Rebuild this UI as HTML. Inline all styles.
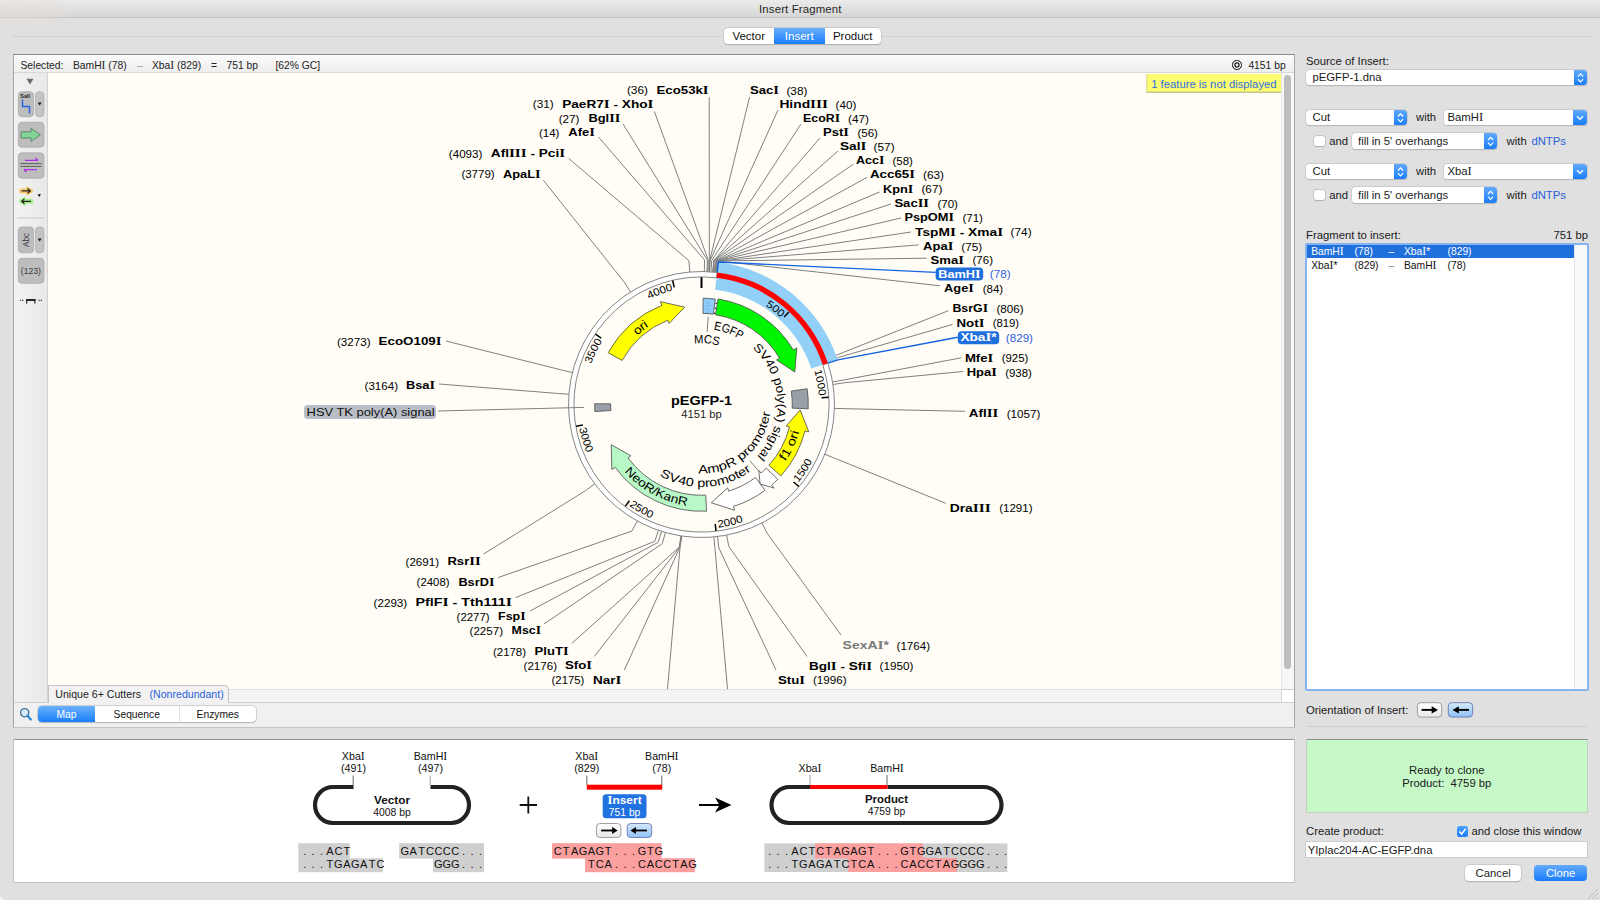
<!DOCTYPE html><html><head><meta charset="utf-8"><style>
*{box-sizing:border-box;margin:0;padding:0}
html,body{width:1600px;height:900px;overflow:hidden;background:#e0e0e0;font-family:"Liberation Sans",sans-serif;color:#1a1a1a}
.a{position:absolute}
.t{position:absolute;white-space:nowrap;line-height:1}
#title{left:0;top:0;width:1600px;height:18.3px;background:linear-gradient(#ebebeb,#d6d6d6);border-bottom:1px solid #c3c3c3}
.seg{position:absolute;border-radius:4px;background:#fff;box-shadow:0 0 0 0.5px #b8b8b8,0 0.5px 1px rgba(0,0,0,.25);overflow:hidden}
.seg .s{position:absolute;top:0;height:100%;text-align:center;font-size:11.5px;color:#111}
.seg .on{background:linear-gradient(#6bb0fb,#1a7ffb);color:#fff}
.btn{position:absolute;background:linear-gradient(#d2d2d2,#bdbdbd);border-radius:4px;box-shadow:inset 0 0 0 0.6px #9a9a9a}
.pop{position:absolute;background:#fff;border-radius:3.5px;box-shadow:0 0 0 0.5px #bdbdbd,0 0.6px 1px rgba(0,0,0,.22)}
.pop .bl{position:absolute;right:0;top:0;bottom:0;background:linear-gradient(#62a9fb,#1a7dfa);border-radius:0 3.5px 3.5px 0}
.ui{font-size:11.3px;color:#1a1a1a}
.I{font-family:"Liberation Serif",serif;font-size:1.13em;line-height:0.8}
</style></head><body><div id="title" class="a"></div><div class="a" style="left:0;top:890px;width:10px;height:10px;background:#f4f4f4"></div><div class="a" style="left:0;top:880px;width:20px;height:20px;background:#e0e0e0;border-radius:0 0 0 6px"></div><div class="a" style="left:0;top:0;width:90px;height:34px;background:radial-gradient(ellipse 70px 22px at 18px 12px, rgba(232,222,212,.55), rgba(230,230,230,0))"></div><div class="t" style="left:759px;top:4.4px;font-size:11.4px;color:#262626;letter-spacing:0.15px">Insert Fragment</div><div class="a" style="left:12px;top:36px;width:1580px;height:1px;background:#d3d3d3"></div><div class="seg" style="left:723.5px;top:27.5px;width:157.5px;height:16.5px"><div class="s" style="left:0;width:50.5px;padding-top:2.6px">Vector</div><div class="s on" style="left:50.5px;width:50.5px;padding-top:2.6px">Insert</div><div class="s" style="left:101px;width:56.5px;padding-top:2.6px">Product</div></div><div class="a" style="left:13px;top:54px;width:1282px;height:674px;background:#f0f0f0;border:1px solid #a6a6a6;border-top-color:#8a8a8a;border-bottom-color:#c4c4c4"></div><div class="a" style="left:14px;top:55px;width:1280px;height:18px;background:linear-gradient(#fbfbfb,#eeeeee);border-bottom:1px solid #d9d9d9"></div><div class="t ui" style="left:20.5px;top:60.8px;font-size:10.3px;color:#222">Selected:</div><div class="t ui" style="left:73px;top:60.8px;font-size:10.3px;color:#222">BamH<span class=I>I</span> (78)</div><div class="t ui" style="left:137px;top:60.8px;font-size:10.3px;color:#999">–</div><div class="t ui" style="left:152px;top:60.8px;font-size:10.3px;color:#222">Xba<span class=I>I</span> (829)</div><div class="t ui" style="left:211px;top:60.8px;font-size:10.3px;color:#222">=</div><div class="t ui" style="left:226.5px;top:60.8px;font-size:10.3px;color:#222">751 bp</div><div class="t ui" style="left:275.5px;top:60.8px;font-size:10.3px;color:#222">[62% GC]</div><div class="a" style="left:1232px;top:60.3px;width:9.5px;height:9.5px;border-radius:50%;border:1.6px solid #111;box-shadow:inset 0 0 0 1.3px #fff, inset 0 0 0 2.6px #111"></div><div class="t ui" style="left:1248.4px;top:60.8px;font-size:10.3px;color:#222">4151 bp</div><div class="a" style="left:14px;top:73px;width:34px;height:629px;background:linear-gradient(90deg,#f2f2f2,#e9e9e9);border-right:1px solid #d2d2d2"></div><div class="a" style="left:1281px;top:73px;width:13px;height:616px;background:#f7f7f7;border-left:1px solid #e6e6e6"></div><div class="a" style="left:1284.4px;top:75px;width:6.5px;height:594px;border-radius:3.5px;background:#bdbdbd"></div><div class="a" style="left:14px;top:702px;width:1280px;height:25px;background:#f0f0f0;border-top:1px solid #d0d0d0"></div><div class="seg" style="left:38px;top:706.2px;width:218px;height:16px"><div class="s on" style="left:0;width:57px;padding-top:2.8px;font-size:10.3px">Map</div><div class="s" style="left:57px;width:84.5px;padding-top:2.8px;font-size:10.3px;border-right:1px solid #e0e0e0">Sequence</div><div class="s" style="left:141.5px;width:76.5px;padding-top:2.8px;font-size:10.3px">Enzymes</div></div><svg class="a" style="left:18px;top:705px" width="16" height="17" viewBox="0 0 16 17"><circle cx="6.7" cy="7.7" r="4.1" fill="#d6eafb" stroke="#3a6f93" stroke-width="1.3"/><line x1="9.5" y1="10.8" x2="12.8" y2="14.5" stroke="#2b86d8" stroke-width="2.3" stroke-linecap="round"/></svg><svg width="1233" height="616" viewBox="48 73 1233 616" style="position:absolute;left:48px;top:73px" font-family="Liberation Sans, sans-serif"><defs><path id="tk500" d="M666.06 292.37 A117.6 117.6 0 0 1 780.89 317.74"/><path id="tk1000" d="M752.73 298.65 A117.6 117.6 0 0 1 818.79 395.94"/><path id="tk1500" d="M798.33 482.60 A124.4 124.4 0 0 0 817.55 359.69"/><path id="tk2000" d="M718.27 527.76 A124.4 124.4 0 0 0 816.64 451.61"/><path id="tk2500" d="M629.06 505.63 A124.4 124.4 0 0 0 752.86 517.80"/><path id="tk3000" d="M579.39 428.28 A124.4 124.4 0 0 0 661.04 522.14"/><path id="tk3500" d="M597.05 458.54 A117.6 117.6 0 0 1 602.47 341.07"/><path id="tk4000" d="M588.46 372.08 A117.6 117.6 0 0 1 673.06 290.39"/><path id="p1" d="M639.01 475.13 A94.3 94.3 0 1 1 784.37 359.50"/><path id="p2" d="M643.48 487.66 A101.4 101.4 0 1 0 727.57 306.51"/><path id="p3" d="M621.63 340.74 A102.2 102.2 0 1 0 798.36 437.10"/><path id="p4" d="M626.90 391.08 A75.8 75.8 0 1 1 767.01 442.63"/><path id="p5" d="M640.45 410.06 A61.3 61.3 0 1 1 760.77 420.16"/><path id="p6" d="M685.18 330.27 A76.0 76.0 0 1 1 691.45 479.83"/><path id="p7" d="M619.45 395.01 A82.6 82.6 0 1 0 781.85 385.36"/><path id="p8" d="M641.99 439.42 A69.0 69.0 0 1 0 745.48 351.33"/></defs><rect x="48" y="73" width="1233" height="616" fill="#fffdf6"/><polyline points="749.60,97.00 709.81,260.24 709.15,271.72" fill="none" stroke="#808080" stroke-width="1"/><polyline points="778.00,110.00 710.24,260.26 709.55,271.74" fill="none" stroke="#808080" stroke-width="1"/><polyline points="801.00,124.00 711.77,260.37 710.95,271.84" fill="none" stroke="#808080" stroke-width="1"/><polyline points="820.00,138.00 713.73,260.52 712.76,271.98" fill="none" stroke="#808080" stroke-width="1"/><polyline points="838.00,151.00 713.95,260.54 712.96,271.99" fill="none" stroke="#808080" stroke-width="1"/><polyline points="853.60,164.00 714.17,260.56 713.16,272.01" fill="none" stroke="#808080" stroke-width="1"/><polyline points="867.00,177.40 715.26,260.66 714.16,272.10" fill="none" stroke="#808080" stroke-width="1"/><polyline points="879.60,192.00 716.13,260.74 714.97,272.18" fill="none" stroke="#808080" stroke-width="1"/><polyline points="891.00,204.00 716.78,260.81 715.57,272.25" fill="none" stroke="#808080" stroke-width="1"/><polyline points="901.00,218.00 717.00,260.83 715.77,272.27" fill="none" stroke="#808080" stroke-width="1"/><polyline points="911.00,232.00 717.65,260.91 716.37,272.33" fill="none" stroke="#808080" stroke-width="1"/><polyline points="918.70,244.90 717.87,260.93 716.57,272.36" fill="none" stroke="#808080" stroke-width="1"/><polyline points="926.70,258.20 718.09,260.96 716.77,272.38" fill="none" stroke="#808080" stroke-width="1"/><polyline points="940.00,285.80 719.82,261.17 718.37,272.57" fill="none" stroke="#808080" stroke-width="1"/><polyline points="948.40,310.70 837.20,354.84 826.40,358.80" fill="none" stroke="#808080" stroke-width="1"/><polyline points="952.40,324.50 838.15,357.52 827.28,361.26" fill="none" stroke="#808080" stroke-width="1"/><polyline points="961.30,357.80 843.90,379.96 832.57,381.91" fill="none" stroke="#808080" stroke-width="1"/><polyline points="963.10,371.50 844.36,382.77 832.99,384.49" fill="none" stroke="#808080" stroke-width="1"/><polyline points="965.00,411.30 845.94,408.71 834.44,408.37" fill="none" stroke="#808080" stroke-width="1"/><polyline points="945.80,503.30 835.51,458.55 824.85,454.24" fill="none" stroke="#808080" stroke-width="1"/><polyline points="841.00,635.00 767.14,533.23 761.91,522.99" fill="none" stroke="#808080" stroke-width="1"/><polyline points="807.00,656.40 728.78,546.40 726.61,535.11" fill="none" stroke="#808080" stroke-width="1"/><polyline points="776.00,670.00 718.85,547.96 717.47,536.54" fill="none" stroke="#808080" stroke-width="1"/><polyline points="709.20,97.20 709.37,260.21 708.74,271.70" fill="none" stroke="#808080" stroke-width="1"/><polyline points="654.40,111.50 708.28,260.16 707.74,271.65" fill="none" stroke="#808080" stroke-width="1"/><polyline points="622.90,123.80 707.40,260.12 706.93,271.61" fill="none" stroke="#808080" stroke-width="1"/><polyline points="598.40,136.90 704.56,260.03 704.32,271.53" fill="none" stroke="#808080" stroke-width="1"/><polyline points="568.60,158.40 688.83,260.56 689.84,272.01" fill="none" stroke="#808080" stroke-width="1"/><polyline points="543.30,180.10 624.37,282.31 630.51,292.03" fill="none" stroke="#808080" stroke-width="1"/><polyline points="446.00,341.00 561.20,369.90 572.37,372.65" fill="none" stroke="#808080" stroke-width="1"/><polyline points="439.00,384.00 557.43,393.41 568.89,394.29" fill="none" stroke="#808080" stroke-width="1"/><polyline points="483.60,554.00 585.52,490.70 594.75,483.84" fill="none" stroke="#808080" stroke-width="1"/><polyline points="498.00,577.60 631.81,531.08 637.35,521.01" fill="none" stroke="#808080" stroke-width="1"/><polyline points="515.60,597.60 654.78,541.24 658.50,530.36" fill="none" stroke="#808080" stroke-width="1"/><polyline points="530.00,611.00 658.11,542.33 661.56,531.36" fill="none" stroke="#808080" stroke-width="1"/><polyline points="544.00,624.00 662.30,543.58 665.42,532.51" fill="none" stroke="#808080" stroke-width="1"/><polyline points="571.60,643.60 679.17,547.26 680.95,535.90" fill="none" stroke="#808080" stroke-width="1"/><polyline points="594.40,656.40 679.60,547.33 681.35,535.96" fill="none" stroke="#808080" stroke-width="1"/><polyline points="624.40,670.00 679.82,547.36 681.54,535.99" fill="none" stroke="#808080" stroke-width="1"/><polyline points="666.50,700.00 680.04,547.40 681.74,536.02" fill="none" stroke="#808080" stroke-width="1"/><polyline points="728.50,700.00 714.93,548.37 713.86,536.92" fill="none" stroke="#808080" stroke-width="1"/><path d="M718.37 262.30 A143.2 143.2 0 0 1 837.61 360.00 L811.28 368.61 A115.5 115.5 0 0 0 715.10 289.80 Z" fill="#92d0f7"/><path d="M827.92 363.17 A133 133 0 1 1 717.17 272.43 L716.53 277.79 A127.6 127.6 0 1 0 822.78 364.85 Z" fill="#ffffff" stroke="#777" stroke-width="0.9"/><path d="M717.17 272.43 A133 133 0 0 1 827.92 363.17 L822.78 364.85 A127.6 127.6 0 0 0 716.53 277.79 Z" fill="#ff0000"/><polyline points="935.60,272.40 718.40,262.00 717.17,272.43" fill="none" stroke="#1463e0" stroke-width="1.4"/><polyline points="957.80,337.30 837.90,359.91 827.92,363.17" fill="none" stroke="#1463e0" stroke-width="1.4"/><line x1="788.91" y1="311.95" x2="784.10" y2="317.04" stroke="#000" stroke-width="1.5"/><text font-size="10.5" text-anchor="end"><textPath href="#tk500" startOffset="100%" textLength="19.4" lengthAdjust="spacingAndGlyphs">500</textPath></text><line x1="828.59" y1="397.23" x2="821.60" y2="397.63" stroke="#000" stroke-width="1.5"/><text font-size="10.5" text-anchor="end"><textPath href="#tk1000" startOffset="100%" textLength="25.8" lengthAdjust="spacingAndGlyphs">1000</textPath></text><line x1="798.89" y1="486.48" x2="793.53" y2="481.97" stroke="#000" stroke-width="1.5"/><text font-size="10.5" text-anchor="start"><textPath href="#tk1500" startOffset="0" textLength="25.8" lengthAdjust="spacingAndGlyphs">1500</textPath></text><line x1="716.02" y1="530.97" x2="715.22" y2="524.02" stroke="#000" stroke-width="1.5"/><text font-size="10.5" text-anchor="start"><textPath href="#tk2000" startOffset="0" textLength="25.8" lengthAdjust="spacingAndGlyphs">2000</textPath></text><line x1="625.22" y1="506.41" x2="629.41" y2="500.81" stroke="#000" stroke-width="1.5"/><text font-size="10.5" text-anchor="start"><textPath href="#tk2500" startOffset="0" textLength="25.8" lengthAdjust="spacingAndGlyphs">2500</textPath></text><line x1="576.07" y1="426.22" x2="582.96" y2="425.02" stroke="#000" stroke-width="1.5"/><text font-size="10.5" text-anchor="start"><textPath href="#tk3000" startOffset="0" textLength="25.8" lengthAdjust="spacingAndGlyphs">3000</textPath></text><line x1="595.40" y1="334.16" x2="601.23" y2="338.03" stroke="#000" stroke-width="1.5"/><text font-size="10.5" text-anchor="end"><textPath href="#tk3500" startOffset="100%" textLength="25.8" lengthAdjust="spacingAndGlyphs">3500</textPath></text><line x1="672.66" y1="280.51" x2="674.24" y2="287.33" stroke="#000" stroke-width="1.5"/><text font-size="10.5" text-anchor="end"><textPath href="#tk4000" startOffset="100%" textLength="25.8" lengthAdjust="spacingAndGlyphs">4000</textPath></text><line x1="701.50" y1="277.20" x2="701.50" y2="288.00" stroke="#000" stroke-width="2"/><path d="M608.09 352.72 A106.8 106.8 0 0 1 661.84 305.34 L660.35 301.62 L684.68 307.14 L669.08 323.44 L667.78 320.19 A90.8 90.8 0 0 0 622.08 360.48 Z" fill="#ffff00" stroke="#4a4a4a" stroke-width="0.8"/><path d="M715.26 298.59 A106.8 106.8 0 0 1 718.21 299.01 L715.70 314.82 A90.8 90.8 0 0 0 713.19 314.46 Z" fill="#ffffff"/><line x1="714.64" y1="313.85" x2="716.75" y2="299.30" stroke="#111" stroke-width="1.3" stroke-dasharray="1.3 3.7"/><path d="M718.02 298.99 A106.8 106.8 0 0 1 793.33 349.97 L796.77 347.93 L794.80 372.01 L776.57 359.93 L779.57 358.14 A90.8 90.8 0 0 0 715.55 314.79 Z" fill="#00f500" stroke="#4a4a4a" stroke-width="0.8"/><path d="M703.17 298.21 A106.3 106.3 0 0 1 715.37 299.11 L713.39 314.18 A91.1 91.1 0 0 0 702.93 313.41 Z" fill="#8ecbf5" stroke="#4a4a4a" stroke-width="0.8"/><circle cx="707.8" cy="303.2" r="0.5" fill="#4f86ee"/><circle cx="709.8" cy="305.3" r="0.5" fill="#4f86ee"/><circle cx="706.8" cy="306" r="0.5" fill="#4f86ee"/><circle cx="705.9" cy="309" r="0.5" fill="#4f86ee"/><circle cx="708.6" cy="309" r="0.5" fill="#4f86ee"/><circle cx="707.9" cy="312" r="0.5" fill="#4f86ee"/><path d="M807.13 388.71 A106.8 106.8 0 0 1 808.21 408.79 L792.23 408.14 A90.8 90.8 0 0 0 791.30 391.08 Z" fill="#9aa0a8" stroke="#4a4a4a" stroke-width="0.8"/><path d="M780.87 475.96 A106.8 106.8 0 0 0 804.99 430.88 L808.87 431.87 L800.15 410.02 L786.10 426.06 L789.49 426.93 A90.8 90.8 0 0 1 768.98 465.26 Z" fill="#ffff00" stroke="#4a4a4a" stroke-width="0.8"/><path d="M706.53 511.18 A106.8 106.8 0 0 1 615.10 467.28 L611.86 469.63 L611.24 444.69 L630.87 455.81 L628.04 457.87 A90.8 90.8 0 0 0 705.78 495.20 Z" fill="#b8f7c6" stroke="#4a4a4a" stroke-width="0.8"/><path d="M765.03 490.35 A106.8 106.8 0 0 1 733.44 506.41 L734.63 510.23 L711.31 502.81 L727.61 487.81 L728.65 491.15 A90.8 90.8 0 0 0 755.51 477.49 Z" fill="#ffffff" stroke="#4a4a4a" stroke-width="0.8"/><path d="M777.68 479.36 A106.8 106.8 0 0 1 771.57 485.10 L774.19 488.12 L760.13 484.02 L758.77 470.39 L761.07 473.03 A90.8 90.8 0 0 0 766.26 468.14 Z" fill="#ffffff" stroke="#4a4a4a" stroke-width="0.8"/><path d="M594.93 411.58 A106.8 106.8 0 0 1 594.70 403.75 L610.70 403.87 A90.8 90.8 0 0 0 610.90 410.52 Z" fill="#9aa0a8" stroke="#4a4a4a" stroke-width="0.8"/><line x1="708.25" y1="316.76" x2="707.10" y2="331.72" stroke="#808080" stroke-width="1"/><line x1="759.54" y1="471.97" x2="749.76" y2="460.60" stroke="#808080" stroke-width="1"/><line x1="438" y1="411" x2="584" y2="407.4" stroke="#808080" stroke-width="1"/><text font-size="12" fill="#000" font-weight="normal" text-anchor="middle"><textPath href="#p1" startOffset="50%" textLength="14.92" lengthAdjust="spacingAndGlyphs">ori</textPath></text><text font-size="12" fill="#000" font-weight="normal" text-anchor="middle"><textPath href="#p2" startOffset="50%" textLength="33.1" lengthAdjust="spacingAndGlyphs">f1 ori</textPath></text><text font-size="12" fill="#000" font-weight="normal" text-anchor="middle"><textPath href="#p3" startOffset="50%" textLength="72.55" lengthAdjust="spacingAndGlyphs">NeoR/KanR</textPath></text><text font-size="12" fill="#000" font-weight="normal" text-anchor="middle"><textPath href="#p4" startOffset="50%" textLength="29.43" lengthAdjust="spacingAndGlyphs">EGFP</textPath></text><text font-size="12" fill="#000" font-weight="normal" text-anchor="middle"><textPath href="#p5" startOffset="50%" textLength="24.95" lengthAdjust="spacingAndGlyphs">MCS</textPath></text><text font-size="12" fill="#000" font-weight="normal" text-anchor="middle"><textPath href="#p6" startOffset="50%" textLength="120.86" lengthAdjust="spacingAndGlyphs">SV40 poly(A) signal</textPath></text><text font-size="12" fill="#000" font-weight="normal" text-anchor="middle"><textPath href="#p7" startOffset="50%" textLength="97.37" lengthAdjust="spacingAndGlyphs">SV40 promoter</textPath></text><text font-size="12" fill="#000" font-weight="normal" text-anchor="middle"><textPath href="#p8" startOffset="50%" textLength="103.87" lengthAdjust="spacingAndGlyphs">AmpR promoter</textPath></text><text x="701.5" y="404.7" text-anchor="middle" font-size="13" font-weight="bold" textLength="61" lengthAdjust="spacingAndGlyphs">pEGFP-1</text><text x="701.5" y="417.5" text-anchor="middle" font-size="10.5" fill="#222" textLength="40.5" lengthAdjust="spacingAndGlyphs">4151 bp</text><text x="750" y="94" font-size="11" font-weight="bold" fill="#000" textLength="29.0" lengthAdjust="spacingAndGlyphs">Sac<tspan font-family="Liberation Serif" font-size="12.2">I</tspan></text><text x="786.4" y="94.6" font-size="10" fill="#000" textLength="21.0" lengthAdjust="spacingAndGlyphs">(38)</text><text x="779.4" y="108" font-size="11" font-weight="bold" fill="#000" textLength="48.6" lengthAdjust="spacingAndGlyphs">Hind<tspan font-family="Liberation Serif" font-size="12.2">I</tspan><tspan font-family="Liberation Serif" font-size="12.2">I</tspan><tspan font-family="Liberation Serif" font-size="12.2">I</tspan></text><text x="835.6" y="108.6" font-size="10" fill="#000" textLength="20.8" lengthAdjust="spacingAndGlyphs">(40)</text><text x="803" y="122" font-size="11" font-weight="bold" fill="#000" textLength="37.0" lengthAdjust="spacingAndGlyphs">EcoR<tspan font-family="Liberation Serif" font-size="12.2">I</tspan></text><text x="848" y="122.6" font-size="10" fill="#000" textLength="21.0" lengthAdjust="spacingAndGlyphs">(47)</text><text x="823" y="136" font-size="11" font-weight="bold" fill="#000" textLength="26.0" lengthAdjust="spacingAndGlyphs">Pst<tspan font-family="Liberation Serif" font-size="12.2">I</tspan></text><text x="857.4" y="136.6" font-size="10" fill="#000" textLength="20.6" lengthAdjust="spacingAndGlyphs">(56)</text><text x="840" y="150.4" font-size="11" font-weight="bold" fill="#000" textLength="26.4" lengthAdjust="spacingAndGlyphs">Sal<tspan font-family="Liberation Serif" font-size="12.2">I</tspan></text><text x="873.6" y="151.0" font-size="10" fill="#000" textLength="21.0" lengthAdjust="spacingAndGlyphs">(57)</text><text x="856" y="164.4" font-size="11" font-weight="bold" fill="#000" textLength="28.4" lengthAdjust="spacingAndGlyphs">Acc<tspan font-family="Liberation Serif" font-size="12.2">I</tspan></text><text x="892.4" y="165.0" font-size="10" fill="#000" textLength="20.6" lengthAdjust="spacingAndGlyphs">(58)</text><text x="870" y="178.4" font-size="11" font-weight="bold" fill="#000" textLength="45.0" lengthAdjust="spacingAndGlyphs">Acc65<tspan font-family="Liberation Serif" font-size="12.2">I</tspan></text><text x="923" y="179.0" font-size="10" fill="#000" textLength="21.0" lengthAdjust="spacingAndGlyphs">(63)</text><text x="883" y="192.6" font-size="11" font-weight="bold" fill="#000" textLength="30.4" lengthAdjust="spacingAndGlyphs">Kpn<tspan font-family="Liberation Serif" font-size="12.2">I</tspan></text><text x="921.4" y="193.2" font-size="10" fill="#000" textLength="21.0" lengthAdjust="spacingAndGlyphs">(67)</text><text x="894.4" y="207" font-size="11" font-weight="bold" fill="#000" textLength="34.6" lengthAdjust="spacingAndGlyphs">Sac<tspan font-family="Liberation Serif" font-size="12.2">I</tspan><tspan font-family="Liberation Serif" font-size="12.2">I</tspan></text><text x="937.4" y="207.6" font-size="10" fill="#000" textLength="20.6" lengthAdjust="spacingAndGlyphs">(70)</text><text x="904.4" y="221" font-size="11" font-weight="bold" fill="#000" textLength="49.6" lengthAdjust="spacingAndGlyphs">PspOM<tspan font-family="Liberation Serif" font-size="12.2">I</tspan></text><text x="962.4" y="221.6" font-size="10" fill="#000" textLength="20.6" lengthAdjust="spacingAndGlyphs">(71)</text><text x="915.1" y="235.6" font-size="11" font-weight="bold" fill="#000" textLength="88.0" lengthAdjust="spacingAndGlyphs">TspM<tspan font-family="Liberation Serif" font-size="12.2">I</tspan> - Xma<tspan font-family="Liberation Serif" font-size="12.2">I</tspan></text><text x="1010.6" y="236.2" font-size="10" fill="#000" textLength="21.0" lengthAdjust="spacingAndGlyphs">(74)</text><text x="923.1" y="249.9" font-size="11" font-weight="bold" fill="#000" textLength="30.2" lengthAdjust="spacingAndGlyphs">Apa<tspan font-family="Liberation Serif" font-size="12.2">I</tspan></text><text x="961.3" y="250.5" font-size="10" fill="#000" textLength="20.8" lengthAdjust="spacingAndGlyphs">(75)</text><text x="930.6" y="263.6" font-size="11" font-weight="bold" fill="#000" textLength="33.4" lengthAdjust="spacingAndGlyphs">Sma<tspan font-family="Liberation Serif" font-size="12.2">I</tspan></text><text x="972.5" y="264.20000000000005" font-size="10" fill="#000" textLength="20.5" lengthAdjust="spacingAndGlyphs">(76)</text><rect x="935.60" y="267.60" width="47.60" height="13" rx="4" fill="#1f6fdc"/><text x="938.2" y="277.8" font-size="11" font-weight="bold" fill="#fff" textLength="42.4" lengthAdjust="spacingAndGlyphs">BamH<tspan font-family="Liberation Serif" font-size="12.2">I</tspan></text><text x="989.8" y="278.40000000000003" font-size="10" fill="#2f62e0" textLength="20.8" lengthAdjust="spacingAndGlyphs">(78)</text><text x="944.1" y="292" font-size="11" font-weight="bold" fill="#000" textLength="29.7" lengthAdjust="spacingAndGlyphs">Age<tspan font-family="Liberation Serif" font-size="12.2">I</tspan></text><text x="982.7" y="292.6" font-size="10" fill="#000" textLength="20.4" lengthAdjust="spacingAndGlyphs">(84)</text><text x="952.4" y="312.4" font-size="11" font-weight="bold" fill="#000" textLength="35.6" lengthAdjust="spacingAndGlyphs">BsrG<tspan font-family="Liberation Serif" font-size="12.2">I</tspan></text><text x="996.5" y="313.0" font-size="10" fill="#000" textLength="27.1" lengthAdjust="spacingAndGlyphs">(806)</text><text x="956.5" y="326.7" font-size="11" font-weight="bold" fill="#000" textLength="27.9" lengthAdjust="spacingAndGlyphs">Not<tspan font-family="Liberation Serif" font-size="12.2">I</tspan></text><text x="992.8" y="327.3" font-size="10" fill="#000" textLength="26.3" lengthAdjust="spacingAndGlyphs">(819)</text><rect x="957.80" y="331.20" width="41.40" height="13" rx="4" fill="#1f6fdc"/><text x="960.4" y="341.4" font-size="11" font-weight="bold" fill="#fff" textLength="36.2" lengthAdjust="spacingAndGlyphs">Xba<tspan font-family="Liberation Serif" font-size="12.2">I</tspan>*</text><text x="1005.8" y="342.0" font-size="10" fill="#2f62e0" textLength="27.2" lengthAdjust="spacingAndGlyphs">(829)</text><text x="964.9" y="361.7" font-size="11" font-weight="bold" fill="#000" textLength="28.4" lengthAdjust="spacingAndGlyphs">Mfe<tspan font-family="Liberation Serif" font-size="12.2">I</tspan></text><text x="1001.7" y="362.3" font-size="10" fill="#000" textLength="26.7" lengthAdjust="spacingAndGlyphs">(925)</text><text x="966.7" y="375.9" font-size="11" font-weight="bold" fill="#000" textLength="30.2" lengthAdjust="spacingAndGlyphs">Hpa<tspan font-family="Liberation Serif" font-size="12.2">I</tspan></text><text x="1005.2" y="376.5" font-size="10" fill="#000" textLength="26.7" lengthAdjust="spacingAndGlyphs">(938)</text><text x="968.8" y="417" font-size="11" font-weight="bold" fill="#000" textLength="29.5" lengthAdjust="spacingAndGlyphs">Afl<tspan font-family="Liberation Serif" font-size="12.2">I</tspan><tspan font-family="Liberation Serif" font-size="12.2">I</tspan></text><text x="1006.7" y="417.6" font-size="10" fill="#000" textLength="33.6" lengthAdjust="spacingAndGlyphs">(1057)</text><text x="949.7" y="511.7" font-size="11" font-weight="bold" fill="#000" textLength="41.1" lengthAdjust="spacingAndGlyphs">Dra<tspan font-family="Liberation Serif" font-size="12.2">I</tspan><tspan font-family="Liberation Serif" font-size="12.2">I</tspan><tspan font-family="Liberation Serif" font-size="12.2">I</tspan></text><text x="999.2" y="512.3" font-size="10" fill="#000" textLength="33.3" lengthAdjust="spacingAndGlyphs">(1291)</text><text x="842.6" y="649" font-size="11" font-weight="bold" fill="#7a7a7a" textLength="46.4" lengthAdjust="spacingAndGlyphs">SexA<tspan font-family="Liberation Serif" font-size="12.2">I</tspan>*</text><text x="896.6" y="649.6" font-size="10" fill="#000" textLength="33.4" lengthAdjust="spacingAndGlyphs">(1764)</text><text x="809" y="669.6" font-size="11" font-weight="bold" fill="#000" textLength="63.0" lengthAdjust="spacingAndGlyphs">Bgl<tspan font-family="Liberation Serif" font-size="12.2">I</tspan> - Sfi<tspan font-family="Liberation Serif" font-size="12.2">I</tspan></text><text x="879.6" y="670.2" font-size="10" fill="#000" textLength="33.8" lengthAdjust="spacingAndGlyphs">(1950)</text><text x="778" y="683.6" font-size="11" font-weight="bold" fill="#000" textLength="27.0" lengthAdjust="spacingAndGlyphs">Stu<tspan font-family="Liberation Serif" font-size="12.2">I</tspan></text><text x="813" y="684.2" font-size="10" fill="#000" textLength="33.6" lengthAdjust="spacingAndGlyphs">(1996)</text><text x="656.5" y="93.7" font-size="11" font-weight="bold" textLength="52.1" lengthAdjust="spacingAndGlyphs">Eco53k<tspan font-family="Liberation Serif" font-size="12.2">I</tspan></text><text x="626.9" y="94.3" font-size="10" textLength="21.0" lengthAdjust="spacingAndGlyphs">(36)</text><text x="562.2" y="107.7" font-size="11" font-weight="bold" textLength="91.3" lengthAdjust="spacingAndGlyphs">PaeR7<tspan font-family="Liberation Serif" font-size="12.2">I</tspan> - Xho<tspan font-family="Liberation Serif" font-size="12.2">I</tspan></text><text x="532.8" y="108.3" font-size="10" textLength="21.0" lengthAdjust="spacingAndGlyphs">(31)</text><text x="588.4" y="122" font-size="11" font-weight="bold" textLength="31.9" lengthAdjust="spacingAndGlyphs">Bgl<tspan font-family="Liberation Serif" font-size="12.2">I</tspan><tspan font-family="Liberation Serif" font-size="12.2">I</tspan></text><text x="558.7" y="122.6" font-size="10" textLength="20.8" lengthAdjust="spacingAndGlyphs">(27)</text><text x="568.3" y="136" font-size="11" font-weight="bold" textLength="26.6" lengthAdjust="spacingAndGlyphs">Afe<tspan font-family="Liberation Serif" font-size="12.2">I</tspan></text><text x="538.9" y="136.6" font-size="10" textLength="20.5" lengthAdjust="spacingAndGlyphs">(14)</text><text x="490.8" y="157" font-size="11" font-weight="bold" textLength="74.3" lengthAdjust="spacingAndGlyphs">Afl<tspan font-family="Liberation Serif" font-size="12.2">I</tspan><tspan font-family="Liberation Serif" font-size="12.2">I</tspan><tspan font-family="Liberation Serif" font-size="12.2">I</tspan> - Pci<tspan font-family="Liberation Serif" font-size="12.2">I</tspan></text><text x="448.8" y="157.6" font-size="10" textLength="33.6" lengthAdjust="spacingAndGlyphs">(4093)</text><text x="503" y="177.7" font-size="11" font-weight="bold" textLength="37.6" lengthAdjust="spacingAndGlyphs">ApaL<tspan font-family="Liberation Serif" font-size="12.2">I</tspan></text><text x="461.4" y="178.29999999999998" font-size="10" textLength="33.2" lengthAdjust="spacingAndGlyphs">(3779)</text><text x="378.6" y="345" font-size="11" font-weight="bold" textLength="63.0" lengthAdjust="spacingAndGlyphs">EcoO109<tspan font-family="Liberation Serif" font-size="12.2">I</tspan></text><text x="337" y="345.6" font-size="10" textLength="33.6" lengthAdjust="spacingAndGlyphs">(3273)</text><text x="406" y="389" font-size="11" font-weight="bold" textLength="29.0" lengthAdjust="spacingAndGlyphs">Bsa<tspan font-family="Liberation Serif" font-size="12.2">I</tspan></text><text x="364.6" y="389.6" font-size="10" textLength="33.4" lengthAdjust="spacingAndGlyphs">(3164)</text><text x="447.4" y="565" font-size="11" font-weight="bold" textLength="33.2" lengthAdjust="spacingAndGlyphs">Rsr<tspan font-family="Liberation Serif" font-size="12.2">I</tspan><tspan font-family="Liberation Serif" font-size="12.2">I</tspan></text><text x="405.6" y="565.6" font-size="10" textLength="33.4" lengthAdjust="spacingAndGlyphs">(2691)</text><text x="458.4" y="585.6" font-size="11" font-weight="bold" textLength="36.0" lengthAdjust="spacingAndGlyphs">BsrD<tspan font-family="Liberation Serif" font-size="12.2">I</tspan></text><text x="416.6" y="586.2" font-size="10" textLength="33.0" lengthAdjust="spacingAndGlyphs">(2408)</text><text x="415.4" y="606.4" font-size="11" font-weight="bold" textLength="96.6" lengthAdjust="spacingAndGlyphs">PflF<tspan font-family="Liberation Serif" font-size="12.2">I</tspan> - Tth111<tspan font-family="Liberation Serif" font-size="12.2">I</tspan></text><text x="373.6" y="607.0" font-size="10" textLength="33.6" lengthAdjust="spacingAndGlyphs">(2293)</text><text x="498" y="620.4" font-size="11" font-weight="bold" textLength="27.6" lengthAdjust="spacingAndGlyphs">Fsp<tspan font-family="Liberation Serif" font-size="12.2">I</tspan></text><text x="456.6" y="621.0" font-size="10" textLength="33.0" lengthAdjust="spacingAndGlyphs">(2277)</text><text x="511.6" y="634.4" font-size="11" font-weight="bold" textLength="29.4" lengthAdjust="spacingAndGlyphs">Msc<tspan font-family="Liberation Serif" font-size="12.2">I</tspan></text><text x="469.6" y="635.0" font-size="10" textLength="33.4" lengthAdjust="spacingAndGlyphs">(2257)</text><text x="534.6" y="655" font-size="11" font-weight="bold" textLength="34.0" lengthAdjust="spacingAndGlyphs">PluT<tspan font-family="Liberation Serif" font-size="12.2">I</tspan></text><text x="493" y="655.6" font-size="10" textLength="33.0" lengthAdjust="spacingAndGlyphs">(2178)</text><text x="565" y="669.4" font-size="11" font-weight="bold" textLength="27.0" lengthAdjust="spacingAndGlyphs">Sfo<tspan font-family="Liberation Serif" font-size="12.2">I</tspan></text><text x="523.6" y="670.0" font-size="10" textLength="33.4" lengthAdjust="spacingAndGlyphs">(2176)</text><text x="593" y="683.6" font-size="11" font-weight="bold" textLength="28.4" lengthAdjust="spacingAndGlyphs">Nar<tspan font-family="Liberation Serif" font-size="12.2">I</tspan></text><text x="551.6" y="684.2" font-size="10" textLength="32.8" lengthAdjust="spacingAndGlyphs">(2175)</text><rect x="304" y="405" width="132" height="14" rx="4" fill="#b9bec6"/><text x="306.6" y="416.4" font-size="11.5" fill="#111" textLength="128" lengthAdjust="spacingAndGlyphs">HSV TK poly(A) signal</text><rect x="1146.5" y="74" width="134.5" height="18.5" fill="#fdfd70"/><line x1="1146.5" y1="92.2" x2="1281" y2="92.2" stroke="#a9a98a" stroke-width="1"/><line x1="1146.8" y1="74" x2="1146.8" y2="92.5" stroke="#c9c9a0" stroke-width="0.8"/><text x="1151.2" y="87.7" font-size="11" fill="#2f6fe0" textLength="125.4" lengthAdjust="spacingAndGlyphs">1 feature is not displayed</text></svg><div class="a" style="left:48px;top:689px;width:1233px;height:13px;background:#f3f5f5;border-top:1px solid #e2e2e2"></div><div class="a" style="left:1281px;top:689px;width:13px;height:13px;background:#fff;border-top:1px solid #cfcfcf;border-left:1px solid #d8d8d8"></div><div class="a" style="left:48px;top:684.5px;width:181px;height:18px;background:#f2f2f2;border:1px solid #c4c4c4;border-bottom:none;border-radius:0 5px 0 0"></div><div class="t ui" style="left:55.3px;top:688.5px;font-size:10.6px;color:#222">Unique 6+ Cutters</div><div class="t ui" style="left:149.5px;top:688.5px;font-size:10.6px;color:#2b5fd9">(Nonredundant)</div><svg class="a" style="left:14px;top:73px" width="34" height="240" viewBox="14 73 34 240"><path d="M26.5 78.8 L33.5 78.8 L30 84.5 Z" fill="#6a6a6a"/><rect x="18.3" y="91.7" width="15.3" height="25" rx="3.5" fill="#bdbdbd" stroke="#9c9c9c" stroke-width="0.6"/><rect x="35.6" y="91.7" width="8.3" height="25" rx="3.5" fill="#c4c4c4" stroke="#9c9c9c" stroke-width="0.6"/><path d="M37.8 102.5 L41.6 102.5 L39.7 105.5 Z" fill="#111"/><text x="20.3" y="98.3" font-size="5.5" font-weight="bold" fill="#222">SalI</text><path d="M22.5 99.5 V106.5 H29.5 V113.5" fill="none" stroke="#2460e8" stroke-width="1.4"/><rect x="18.3" y="122.2" width="25.6" height="25" rx="3.5" fill="#bdbdbd" stroke="#9c9c9c" stroke-width="0.6"/><path d="M21 131.8 H31 V128.4 L40.4 134.9 L31 141.3 V138 H21 Z" fill="#7fd496" stroke="#4a6a52" stroke-width="0.7"/><rect x="18.3" y="152.8" width="25.6" height="25.5" rx="3.5" fill="#bdbdbd" stroke="#9c9c9c" stroke-width="0.6"/><line x1="20.5" y1="163.5" x2="41.5" y2="163.5" stroke="#666" stroke-width="1"/><line x1="20.5" y1="166.5" x2="41.5" y2="166.5" stroke="#666" stroke-width="1"/><line x1="20.5" y1="165" x2="41.5" y2="165" stroke="#999" stroke-width="1" stroke-dasharray="1 1"/><path d="M25 160.3 H38 M35.5 158 L38 160.3" fill="none" stroke="#b02ee8" stroke-width="1.3"/><path d="M37 169.7 H24 M26.5 172 L24 169.7" fill="none" stroke="#b02ee8" stroke-width="1.3"/><path d="M21.5 190.9 H30" stroke="#f7c870" stroke-width="5" stroke-linecap="round"/><path d="M27.5 188 L31 190.9 L27.5 193.8" fill="none" stroke="#f7c870" stroke-width="3" stroke-linecap="round"/><path d="M21.5 190.9 H30 M27.6 188.5 L30.3 190.9 L27.6 193.3" fill="none" stroke="#222" stroke-width="1.2"/><path d="M22 201.3 H31" stroke="#a8f08a" stroke-width="5" stroke-linecap="round"/><path d="M24.5 198.4 L21 201.3 L24.5 204.2" fill="none" stroke="#a8f08a" stroke-width="3" stroke-linecap="round"/><path d="M31 201.3 H22 M24.4 198.9 L21.7 201.3 L24.4 203.7" fill="none" stroke="#222" stroke-width="1.2"/><path d="M37.5 194.3 L41 194.3 L39.25 197 Z" fill="#111"/><line x1="17" y1="217.8" x2="44" y2="217.8" stroke="#cfcfcf" stroke-width="1.2"/><rect x="18.3" y="227" width="15.3" height="25.8" rx="3.5" fill="#bdbdbd" stroke="#9c9c9c" stroke-width="0.6"/><rect x="35.6" y="227" width="8.3" height="25.8" rx="3.5" fill="#c4c4c4" stroke="#9c9c9c" stroke-width="0.6"/><path d="M37.8 238.5 L41.6 238.5 L39.7 241.5 Z" fill="#111"/><text transform="rotate(-90 26 240)" x="26" y="240" font-size="9" fill="#3a3a3a" text-anchor="middle" dominant-baseline="central" textLength="14" lengthAdjust="spacingAndGlyphs">Abc</text><rect x="18.3" y="258.3" width="25.6" height="25" rx="3.5" fill="#bdbdbd" stroke="#9c9c9c" stroke-width="0.6"/><text x="30.8" y="274" font-size="9" fill="#3a3a3a" text-anchor="middle" textLength="20" lengthAdjust="spacingAndGlyphs">(123)</text><line x1="20" y1="300.3" x2="23.5" y2="300.3" stroke="#333" stroke-width="1.2" stroke-dasharray="1.2 1"/><line x1="38.5" y1="300.3" x2="42" y2="300.3" stroke="#333" stroke-width="1.2" stroke-dasharray="1.2 1"/><rect x="26" y="299" width="9.5" height="2" fill="#222"/><rect x="26" y="299" width="1.3" height="4.5" fill="#333"/><rect x="34.2" y="299" width="1.3" height="4.5" fill="#333"/></svg><div class="a" style="left:13px;top:739px;width:1282px;height:144px;background:#fff;border:1px solid #c2c2c2;border-top-color:#929292;border-radius:1.5px"></div><svg class="a" style="left:0;top:0" width="1600" height="900" viewBox="0 0 1600 900" font-family="Liberation Sans, sans-serif"><defs><linearGradient id="gw" x1="0" y1="0" x2="0" y2="1"><stop offset="0" stop-color="#ffffff"/><stop offset="1" stop-color="#e6e6e6"/></linearGradient><linearGradient id="gb" x1="0" y1="0" x2="0" y2="1"><stop offset="0" stop-color="#d6e8fb"/><stop offset="1" stop-color="#8fc3f5"/></linearGradient></defs><path d="M353.5 787 H333 A18 18 0 0 0 333 823 H451 A18 18 0 0 0 451 787 H430.5" fill="none" stroke="#222" stroke-width="4.2"/><line x1="353.2" y1="775.5" x2="353.2" y2="785" stroke="#555" stroke-width="0.9"/><line x1="430.2" y1="775.5" x2="430.2" y2="785" stroke="#999" stroke-width="0.9"/><text x="353.3" y="760" text-anchor="middle" font-size="10.5" font-weight="normal" fill="#111" textLength="23" lengthAdjust="spacingAndGlyphs">Xba<tspan font-family="Liberation Serif" font-size="11.6">I</tspan></text><text x="353.5" y="771.7" text-anchor="middle" font-size="10.5" font-weight="normal" fill="#111" textLength="25" lengthAdjust="spacingAndGlyphs">(491)</text><text x="430.5" y="760" text-anchor="middle" font-size="10.5" font-weight="normal" fill="#111" textLength="33.5" lengthAdjust="spacingAndGlyphs">BamH<tspan font-family="Liberation Serif" font-size="11.6">I</tspan></text><text x="430.5" y="771.7" text-anchor="middle" font-size="10.5" font-weight="normal" fill="#111" textLength="25" lengthAdjust="spacingAndGlyphs">(497)</text><text x="392" y="803.5" text-anchor="middle" font-size="11" font-weight="bold" fill="#111" textLength="36" lengthAdjust="spacingAndGlyphs">Vector</text><text x="392" y="815.5" text-anchor="middle" font-size="10.5" font-weight="normal" fill="#111" textLength="37.5" lengthAdjust="spacingAndGlyphs">4008 bp</text><path d="M519.7 805 H537 M528.3 796.5 V813.5" stroke="#111" stroke-width="1.8"/><line x1="586.8" y1="775.5" x2="586.8" y2="785" stroke="#555" stroke-width="0.9"/><line x1="661.8" y1="775.5" x2="661.8" y2="785" stroke="#555" stroke-width="0.9"/><rect x="586.8" y="784.7" width="75.4" height="5" fill="#ff0000"/><text x="586.8" y="760" text-anchor="middle" font-size="10.5" font-weight="normal" fill="#111" textLength="23" lengthAdjust="spacingAndGlyphs">Xba<tspan font-family="Liberation Serif" font-size="11.6">I</tspan></text><text x="586.8" y="771.7" text-anchor="middle" font-size="10.5" font-weight="normal" fill="#111" textLength="25" lengthAdjust="spacingAndGlyphs">(829)</text><text x="661.8" y="760" text-anchor="middle" font-size="10.5" font-weight="normal" fill="#111" textLength="33.5" lengthAdjust="spacingAndGlyphs">BamH<tspan font-family="Liberation Serif" font-size="11.6">I</tspan></text><text x="661.8" y="771.7" text-anchor="middle" font-size="10.5" font-weight="normal" fill="#111" textLength="19" lengthAdjust="spacingAndGlyphs">(78)</text><rect x="602.7" y="794.2" width="43.8" height="24" rx="3.5" fill="#1f72df"/><text x="624.6" y="804.4" text-anchor="middle" font-size="11" font-weight="bold" fill="#fff" textLength="34" lengthAdjust="spacingAndGlyphs"><tspan font-family="Liberation Serif" font-size="11.6">I</tspan>nsert</text><text x="624.6" y="815.5" text-anchor="middle" font-size="10.5" font-weight="normal" fill="#fff" textLength="31.5" lengthAdjust="spacingAndGlyphs">751 bp</text><rect x="596.4" y="823.5" width="24.5" height="14" rx="3.5" fill="url(#gw)" stroke="#8a8a8a" stroke-width="0.8"/><path d="M601.15 830.5 H614.65" stroke="#000" stroke-width="1.8"/><path d="M617.65 830.5 L612.15 827.1 L612.15 833.9 Z" fill="#000"/><rect x="627.2" y="823.5" width="24.5" height="14" rx="3.5" fill="url(#gb)" stroke="#5a6aa8" stroke-width="0.8"/><path d="M633.45 830.5 H646.95" stroke="#000" stroke-width="1.8"/><path d="M630.45 830.5 L635.95 827.1 L635.95 833.9 Z" fill="#000"/><path d="M699 805 H726" stroke="#000" stroke-width="2"/><path d="M731.5 805 L715 797.5 L719.5 805 L715 812.5 Z" fill="#000"/><path d="M810 787 H789.5 A18 18 0 0 0 789.5 823 H983.5 A18 18 0 0 0 983.5 787 H887.5" fill="none" stroke="#222" stroke-width="4.2"/><path d="M810 787 H887.5" fill="none" stroke="#ff0000" stroke-width="4.2"/><line x1="810" y1="775" x2="810" y2="785" stroke="#999" stroke-width="0.9"/><line x1="887" y1="775" x2="887" y2="785" stroke="#555" stroke-width="0.9"/><text x="810" y="772" text-anchor="middle" font-size="10.5" font-weight="normal" fill="#111" textLength="23" lengthAdjust="spacingAndGlyphs">Xba<tspan font-family="Liberation Serif" font-size="11.6">I</tspan></text><text x="887" y="772" text-anchor="middle" font-size="10.5" font-weight="normal" fill="#111" textLength="33.5" lengthAdjust="spacingAndGlyphs">BamH<tspan font-family="Liberation Serif" font-size="11.6">I</tspan></text><text x="886.5" y="803.4" text-anchor="middle" font-size="11" font-weight="bold" fill="#111" textLength="43" lengthAdjust="spacingAndGlyphs">Product</text><text x="886.5" y="815.4" text-anchor="middle" font-size="10.5" font-weight="normal" fill="#111" textLength="37.5" lengthAdjust="spacingAndGlyphs">4759 bp</text><rect x="298.3" y="843.2" width="51.4" height="15.4" fill="#cfcfcf"/><rect x="298.3" y="858.2" width="84.4" height="14" fill="#cfcfcf"/><rect x="399.2" y="843.2" width="84.8" height="15.4" fill="#cfcfcf"/><rect x="433" y="858.2" width="51" height="14" fill="#cfcfcf"/><text x="304.71" y="855" text-anchor="middle" font-size="11" fill="#111">.</text><text x="313.13" y="855" text-anchor="middle" font-size="11" fill="#111">.</text><text x="321.55" y="855" text-anchor="middle" font-size="11" fill="#111">.</text><text x="329.97" y="855" text-anchor="middle" font-size="11" fill="#111">A</text><text x="338.39" y="855" text-anchor="middle" font-size="11" fill="#111">C</text><text x="346.81" y="855" text-anchor="middle" font-size="11" fill="#111">T</text><text x="304.71" y="868.2" text-anchor="middle" font-size="11" fill="#111">.</text><text x="313.13" y="868.2" text-anchor="middle" font-size="11" fill="#111">.</text><text x="321.55" y="868.2" text-anchor="middle" font-size="11" fill="#111">.</text><text x="329.97" y="868.2" text-anchor="middle" font-size="11" fill="#111">T</text><text x="338.39" y="868.2" text-anchor="middle" font-size="11" fill="#111">G</text><text x="346.81" y="868.2" text-anchor="middle" font-size="11" fill="#111">A</text><text x="355.23" y="868.2" text-anchor="middle" font-size="11" fill="#111">G</text><text x="363.65" y="868.2" text-anchor="middle" font-size="11" fill="#111">A</text><text x="372.07" y="868.2" text-anchor="middle" font-size="11" fill="#111">T</text><text x="380.49" y="868.2" text-anchor="middle" font-size="11" fill="#111">C</text><text x="404.71" y="855" text-anchor="middle" font-size="11" fill="#111">G</text><text x="413.13" y="855" text-anchor="middle" font-size="11" fill="#111">A</text><text x="421.55" y="855" text-anchor="middle" font-size="11" fill="#111">T</text><text x="429.97" y="855" text-anchor="middle" font-size="11" fill="#111">C</text><text x="438.39" y="855" text-anchor="middle" font-size="11" fill="#111">C</text><text x="446.81" y="855" text-anchor="middle" font-size="11" fill="#111">C</text><text x="455.23" y="855" text-anchor="middle" font-size="11" fill="#111">C</text><text x="463.65" y="855" text-anchor="middle" font-size="11" fill="#111">.</text><text x="472.07" y="855" text-anchor="middle" font-size="11" fill="#111">.</text><text x="480.49" y="855" text-anchor="middle" font-size="11" fill="#111">.</text><text x="438.39" y="868.2" text-anchor="middle" font-size="11" fill="#111">G</text><text x="446.81" y="868.2" text-anchor="middle" font-size="11" fill="#111">G</text><text x="455.23" y="868.2" text-anchor="middle" font-size="11" fill="#111">G</text><text x="463.65" y="868.2" text-anchor="middle" font-size="11" fill="#111">.</text><text x="472.07" y="868.2" text-anchor="middle" font-size="11" fill="#111">.</text><text x="480.49" y="868.2" text-anchor="middle" font-size="11" fill="#111">.</text><rect x="552" y="843.2" width="109.5" height="15.4" fill="#fb9f9f"/><rect x="585" y="858.2" width="109.8" height="14" fill="#fb9f9f"/><text x="557.71" y="855" text-anchor="middle" font-size="11" fill="#111">C</text><text x="566.13" y="855" text-anchor="middle" font-size="11" fill="#111">T</text><text x="574.55" y="855" text-anchor="middle" font-size="11" fill="#111">A</text><text x="582.97" y="855" text-anchor="middle" font-size="11" fill="#111">G</text><text x="591.39" y="855" text-anchor="middle" font-size="11" fill="#111">A</text><text x="599.81" y="855" text-anchor="middle" font-size="11" fill="#111">G</text><text x="608.23" y="855" text-anchor="middle" font-size="11" fill="#111">T</text><text x="616.65" y="855" text-anchor="middle" font-size="11" fill="#111">.</text><text x="625.07" y="855" text-anchor="middle" font-size="11" fill="#111">.</text><text x="633.49" y="855" text-anchor="middle" font-size="11" fill="#111">.</text><text x="641.91" y="855" text-anchor="middle" font-size="11" fill="#111">G</text><text x="650.33" y="855" text-anchor="middle" font-size="11" fill="#111">T</text><text x="658.75" y="855" text-anchor="middle" font-size="11" fill="#111">G</text><text x="591.39" y="868.2" text-anchor="middle" font-size="11" fill="#111">T</text><text x="599.81" y="868.2" text-anchor="middle" font-size="11" fill="#111">C</text><text x="608.23" y="868.2" text-anchor="middle" font-size="11" fill="#111">A</text><text x="616.65" y="868.2" text-anchor="middle" font-size="11" fill="#111">.</text><text x="625.07" y="868.2" text-anchor="middle" font-size="11" fill="#111">.</text><text x="633.49" y="868.2" text-anchor="middle" font-size="11" fill="#111">.</text><text x="641.91" y="868.2" text-anchor="middle" font-size="11" fill="#111">C</text><text x="650.33" y="868.2" text-anchor="middle" font-size="11" fill="#111">A</text><text x="658.75" y="868.2" text-anchor="middle" font-size="11" fill="#111">C</text><text x="667.17" y="868.2" text-anchor="middle" font-size="11" fill="#111">C</text><text x="675.59" y="868.2" text-anchor="middle" font-size="11" fill="#111">T</text><text x="684.01" y="868.2" text-anchor="middle" font-size="11" fill="#111">A</text><text x="692.43" y="868.2" text-anchor="middle" font-size="11" fill="#111">G</text><rect x="764.4" y="843.4" width="243" height="28.6" fill="#cfcfcf"/><rect x="815" y="843.4" width="108" height="15" fill="#fb9f9f"/><rect x="848" y="858" width="109" height="14" fill="#fb9f9f"/><text x="769.71" y="855" text-anchor="middle" font-size="11" fill="#111">.</text><text x="778.13" y="855" text-anchor="middle" font-size="11" fill="#111">.</text><text x="786.55" y="855" text-anchor="middle" font-size="11" fill="#111">.</text><text x="794.97" y="855" text-anchor="middle" font-size="11" fill="#111">A</text><text x="803.39" y="855" text-anchor="middle" font-size="11" fill="#111">C</text><text x="811.81" y="855" text-anchor="middle" font-size="11" fill="#111">T</text><text x="820.23" y="855" text-anchor="middle" font-size="11" fill="#111">C</text><text x="828.65" y="855" text-anchor="middle" font-size="11" fill="#111">T</text><text x="837.07" y="855" text-anchor="middle" font-size="11" fill="#111">A</text><text x="845.49" y="855" text-anchor="middle" font-size="11" fill="#111">G</text><text x="853.91" y="855" text-anchor="middle" font-size="11" fill="#111">A</text><text x="862.33" y="855" text-anchor="middle" font-size="11" fill="#111">G</text><text x="870.75" y="855" text-anchor="middle" font-size="11" fill="#111">T</text><text x="879.17" y="855" text-anchor="middle" font-size="11" fill="#111">.</text><text x="887.59" y="855" text-anchor="middle" font-size="11" fill="#111">.</text><text x="896.01" y="855" text-anchor="middle" font-size="11" fill="#111">.</text><text x="904.43" y="855" text-anchor="middle" font-size="11" fill="#111">G</text><text x="912.85" y="855" text-anchor="middle" font-size="11" fill="#111">T</text><text x="921.27" y="855" text-anchor="middle" font-size="11" fill="#111">G</text><text x="929.69" y="855" text-anchor="middle" font-size="11" fill="#111">G</text><text x="938.11" y="855" text-anchor="middle" font-size="11" fill="#111">A</text><text x="946.53" y="855" text-anchor="middle" font-size="11" fill="#111">T</text><text x="954.95" y="855" text-anchor="middle" font-size="11" fill="#111">C</text><text x="963.37" y="855" text-anchor="middle" font-size="11" fill="#111">C</text><text x="971.79" y="855" text-anchor="middle" font-size="11" fill="#111">C</text><text x="980.21" y="855" text-anchor="middle" font-size="11" fill="#111">C</text><text x="988.63" y="855" text-anchor="middle" font-size="11" fill="#111">.</text><text x="997.05" y="855" text-anchor="middle" font-size="11" fill="#111">.</text><text x="1005.47" y="855" text-anchor="middle" font-size="11" fill="#111">.</text><text x="769.71" y="868.2" text-anchor="middle" font-size="11" fill="#111">.</text><text x="778.13" y="868.2" text-anchor="middle" font-size="11" fill="#111">.</text><text x="786.55" y="868.2" text-anchor="middle" font-size="11" fill="#111">.</text><text x="794.97" y="868.2" text-anchor="middle" font-size="11" fill="#111">T</text><text x="803.39" y="868.2" text-anchor="middle" font-size="11" fill="#111">G</text><text x="811.81" y="868.2" text-anchor="middle" font-size="11" fill="#111">A</text><text x="820.23" y="868.2" text-anchor="middle" font-size="11" fill="#111">G</text><text x="828.65" y="868.2" text-anchor="middle" font-size="11" fill="#111">A</text><text x="837.07" y="868.2" text-anchor="middle" font-size="11" fill="#111">T</text><text x="845.49" y="868.2" text-anchor="middle" font-size="11" fill="#111">C</text><text x="853.91" y="868.2" text-anchor="middle" font-size="11" fill="#111">T</text><text x="862.33" y="868.2" text-anchor="middle" font-size="11" fill="#111">C</text><text x="870.75" y="868.2" text-anchor="middle" font-size="11" fill="#111">A</text><text x="879.17" y="868.2" text-anchor="middle" font-size="11" fill="#111">.</text><text x="887.59" y="868.2" text-anchor="middle" font-size="11" fill="#111">.</text><text x="896.01" y="868.2" text-anchor="middle" font-size="11" fill="#111">.</text><text x="904.43" y="868.2" text-anchor="middle" font-size="11" fill="#111">C</text><text x="912.85" y="868.2" text-anchor="middle" font-size="11" fill="#111">A</text><text x="921.27" y="868.2" text-anchor="middle" font-size="11" fill="#111">C</text><text x="929.69" y="868.2" text-anchor="middle" font-size="11" fill="#111">C</text><text x="938.11" y="868.2" text-anchor="middle" font-size="11" fill="#111">T</text><text x="946.53" y="868.2" text-anchor="middle" font-size="11" fill="#111">A</text><text x="954.95" y="868.2" text-anchor="middle" font-size="11" fill="#111">G</text><text x="963.37" y="868.2" text-anchor="middle" font-size="11" fill="#111">G</text><text x="971.79" y="868.2" text-anchor="middle" font-size="11" fill="#111">G</text><text x="980.21" y="868.2" text-anchor="middle" font-size="11" fill="#111">G</text><text x="988.63" y="868.2" text-anchor="middle" font-size="11" fill="#111">.</text><text x="997.05" y="868.2" text-anchor="middle" font-size="11" fill="#111">.</text><text x="1005.47" y="868.2" text-anchor="middle" font-size="11" fill="#111">.</text></svg><div class="t" style="left:1306px;top:56px;font-size:11.3px;color:#1a1a1a;">Source of Insert:</div><div class="pop" style="left:1306px;top:69.6px;width:280.7px;height:15.7px"><div class="bl" style="width:13px"></div></div><svg class="a" style="left:1573.7px;top:69.6px" width="13" height="15.7"><path d="M3.9 6.55 L6.5 3.8499999999999996 L9.1 6.55 M3.9 9.15 L6.5 11.85 L9.1 9.15" fill="none" stroke="#fff" stroke-width="1.2"/></svg><div class="t" style="left:1312.5px;top:72.2px;font-size:11.3px;color:#1a1a1a;">pEGFP-1.dna</div><div class="pop" style="left:1306px;top:109.7px;width:100.5px;height:15.6px"><div class="bl" style="width:13px"></div></div><svg class="a" style="left:1393.5px;top:109.7px" width="13" height="15.6"><path d="M3.9 6.5 L6.5 3.8 L9.1 6.5 M3.9 9.1 L6.5 11.8 L9.1 9.1" fill="none" stroke="#fff" stroke-width="1.2"/></svg><div class="t" style="left:1312.5px;top:112.3px;font-size:11.3px;color:#1a1a1a;">Cut</div><div class="t" style="left:1416px;top:112.3px;font-size:11.3px;color:#1a1a1a;">with</div><div class="pop" style="left:1444.3px;top:109.7px;width:142.4px;height:15.6px;border-radius:2px"><div class="bl" style="width:14px"></div></div><svg class="a" style="left:1572.7px;top:109.7px" width="14" height="15.6"><path d="M4.0 6.3 L7.0 9.3 L10.0 6.3" fill="none" stroke="#fff" stroke-width="1.4"/></svg><div class="t" style="left:1447.5px;top:112.3px;font-size:11.3px;color:#1a1a1a;">BamH<span class=I>I</span></div><div class="a" style="left:1314.4px;top:135.8px;width:10.7px;height:10.5px;background:#fff;border-radius:2.5px;box-shadow:0 0 0 0.5px #b0b0b0,0 0.5px 1px rgba(0,0,0,.2)"></div><div class="t" style="left:1329.3px;top:136.0px;font-size:11.3px;color:#1a1a1a;">and</div><div class="pop" style="left:1351.8px;top:132.5px;width:145.6px;height:16.6px"><div class="bl" style="width:13.2px"></div></div><svg class="a" style="left:1484.2px;top:132.5px" width="13.2" height="16.6"><path d="M3.9999999999999996 7.000000000000001 L6.6 4.300000000000001 L9.2 7.000000000000001 M3.9999999999999996 9.600000000000001 L6.6 12.3 L9.2 9.600000000000001" fill="none" stroke="#fff" stroke-width="1.2"/></svg><div class="t" style="left:1358px;top:135.7px;font-size:11.3px;color:#1a1a1a;">fill in 5' overhangs</div><div class="t" style="left:1506.6px;top:136.0px;font-size:11.3px;color:#1a1a1a;">with</div><div class="t" style="left:1531.4px;top:136.0px;font-size:11.3px;color:#2b5fd9;">dNTPs</div><div class="pop" style="left:1306px;top:163.8px;width:100.5px;height:15.6px"><div class="bl" style="width:13px"></div></div><svg class="a" style="left:1393.5px;top:163.8px" width="13" height="15.6"><path d="M3.9 6.5 L6.5 3.8 L9.1 6.5 M3.9 9.1 L6.5 11.8 L9.1 9.1" fill="none" stroke="#fff" stroke-width="1.2"/></svg><div class="t" style="left:1312.5px;top:166.4px;font-size:11.3px;color:#1a1a1a;">Cut</div><div class="t" style="left:1416px;top:166.4px;font-size:11.3px;color:#1a1a1a;">with</div><div class="pop" style="left:1444.3px;top:163.8px;width:142.4px;height:15.6px;border-radius:2px"><div class="bl" style="width:14px"></div></div><svg class="a" style="left:1572.7px;top:163.8px" width="14" height="15.6"><path d="M4.0 6.3 L7.0 9.3 L10.0 6.3" fill="none" stroke="#fff" stroke-width="1.4"/></svg><div class="t" style="left:1447.5px;top:166.4px;font-size:11.3px;color:#1a1a1a;">Xba<span class=I>I</span></div><div class="a" style="left:1314.4px;top:189.90000000000003px;width:10.7px;height:10.5px;background:#fff;border-radius:2.5px;box-shadow:0 0 0 0.5px #b0b0b0,0 0.5px 1px rgba(0,0,0,.2)"></div><div class="t" style="left:1329.3px;top:190.10000000000002px;font-size:11.3px;color:#1a1a1a;">and</div><div class="pop" style="left:1351.8px;top:186.60000000000002px;width:145.6px;height:16.6px"><div class="bl" style="width:13.2px"></div></div><svg class="a" style="left:1484.2px;top:186.60000000000002px" width="13.2" height="16.6"><path d="M3.9999999999999996 7.000000000000001 L6.6 4.300000000000001 L9.2 7.000000000000001 M3.9999999999999996 9.600000000000001 L6.6 12.3 L9.2 9.600000000000001" fill="none" stroke="#fff" stroke-width="1.2"/></svg><div class="t" style="left:1358px;top:189.8px;font-size:11.3px;color:#1a1a1a;">fill in 5' overhangs</div><div class="t" style="left:1506.6px;top:190.10000000000002px;font-size:11.3px;color:#1a1a1a;">with</div><div class="t" style="left:1531.4px;top:190.10000000000002px;font-size:11.3px;color:#2b5fd9;">dNTPs</div><div class="t" style="left:1306px;top:229.6px;font-size:11.3px;color:#1a1a1a;">Fragment to insert:</div><div class="t" style="left:1553.5px;top:229.6px;font-size:11.3px;color:#1a1a1a;">751 bp</div><div class="a" style="left:1305px;top:242.5px;width:283.6px;height:448.8px;background:#fff;border:2.5px solid #86b4f0;border-radius:2px"></div><div class="a" style="left:1573.7px;top:245px;width:12.5px;height:444px;background:#fafafa;border-left:1px solid #e4e4e4"></div><div class="a" style="left:1307.4px;top:244.8px;width:266.3px;height:12.8px;background:#1f70dc"></div><div class="t" style="left:1311.2px;top:246.6px;font-size:10.3px;color:#fff;">BamH<span class=I>I</span></div><div class="t" style="left:1354.5px;top:246.6px;font-size:10.3px;color:#fff;">(78)</div><div class="t" style="left:1388.4px;top:246.6px;font-size:10.3px;color:#fff;">–</div><div class="t" style="left:1404px;top:246.6px;font-size:10.3px;color:#fff;">Xba<span class=I>I</span>*</div><div class="t" style="left:1447.5px;top:246.6px;font-size:10.3px;color:#fff;">(829)</div><div class="t" style="left:1311.2px;top:260.9px;font-size:10.3px;color:#111;">Xba<span class=I>I</span>*</div><div class="t" style="left:1354.5px;top:260.9px;font-size:10.3px;color:#111;">(829)</div><div class="t" style="left:1388.4px;top:260.9px;font-size:10.3px;color:#888;">–</div><div class="t" style="left:1404px;top:260.9px;font-size:10.3px;color:#111;">BamH<span class=I>I</span></div><div class="t" style="left:1447.5px;top:260.9px;font-size:10.3px;color:#111;">(78)</div><div class="t" style="left:1306px;top:705.4px;font-size:11.3px;color:#1a1a1a;">Orientation of Insert:</div><svg class="a" style="left:1410px;top:698px" width="70" height="24"><defs><linearGradient id="gw2" x1="0" y1="0" x2="0" y2="1"><stop offset="0" stop-color="#ffffff"/><stop offset="1" stop-color="#e9e9e9"/></linearGradient><linearGradient id="gb2" x1="0" y1="0" x2="0" y2="1"><stop offset="0" stop-color="#d8eafc"/><stop offset="1" stop-color="#8cc1f5"/></linearGradient></defs><rect x="7.4" y="4.7" width="24.3" height="14.4" rx="3.5" fill="url(#gw2)" stroke="#8a8a8a" stroke-width="0.8"/><path d="M11.5 11.9 H25" stroke="#000" stroke-width="1.9"/><path d="M28 11.9 L21.7 8.3 L21.7 15.5 Z" fill="#000"/><rect x="38.3" y="4.7" width="24.3" height="14.4" rx="3.5" fill="url(#gb2)" stroke="#5a6aa8" stroke-width="0.8"/><path d="M45.5 11.9 H59" stroke="#000" stroke-width="1.9"/><path d="M42.5 11.9 L48.8 8.3 L48.8 15.5 Z" fill="#000"/></svg><div class="a" style="left:1306px;top:725.6px;width:281px;height:1px;background:#cfcfcf"></div><div class="a" style="left:1306px;top:739.2px;width:281.7px;height:74.1px;background:#c6f8c8;border:1px solid #c4cfc4;border-top-color:#8f8f8f"></div><div class="t" style="left:1400.3px;top:764.9px;font-size:11.3px;color:#1a1a1a;width:93px;text-align:center">Ready to clone</div><div class="t" style="left:1400.3px;top:778.4px;font-size:11.3px;color:#1a1a1a;width:93px;text-align:center">Product:&nbsp; 4759 bp</div><div class="t" style="left:1306px;top:825.9px;font-size:11.3px;color:#1a1a1a;">Create product:</div><div class="a" style="left:1457px;top:825.5px;width:11px;height:11px;border-radius:2.5px;background:linear-gradient(#4aa0fb,#1a7dfa)"></div><svg class="a" style="left:1457px;top:825.5px" width="11" height="11"><path d="M2.4 5.6 L4.6 8 L8.7 2.6" fill="none" stroke="#fff" stroke-width="1.5"/></svg><div class="t" style="left:1471.5px;top:825.9px;font-size:11.3px;color:#1a1a1a;">and close this window</div><div class="a" style="left:1306px;top:841.9px;width:280.6px;height:15.4px;background:#fff;box-shadow:0 0 0 0.6px #c0c0c0"></div><div class="t" style="left:1307.7px;top:845px;font-size:11.3px;color:#1a1a1a;">YIplac204-AC-EGFP.dna</div><div class="a" style="left:1465px;top:864.6px;width:56.3px;height:16.6px;background:#fff;border-radius:4px;box-shadow:0 0 0 0.5px #b8b8b8,0 0.6px 1px rgba(0,0,0,.25)"></div><div class="t" style="left:1465px;top:867.8px;font-size:11.3px;color:#1a1a1a;width:56.3px;text-align:center">Cancel</div><div class="a" style="left:1534.1px;top:864.6px;width:53.1px;height:16.6px;background:linear-gradient(#63aafc,#1a7cfa);border-radius:4px"></div><div class="t" style="left:1534.1px;top:867.8px;font-size:11.3px;color:#fff;width:53.1px;text-align:center">Clone</div><svg class="a" style="left:1585px;top:886px" width="14" height="14"><path d="M3 13 L13 3 M7 13 L13 7 M11 13 L13 11" stroke="#b0b0b0" stroke-width="0.8"/></svg></body></html>
